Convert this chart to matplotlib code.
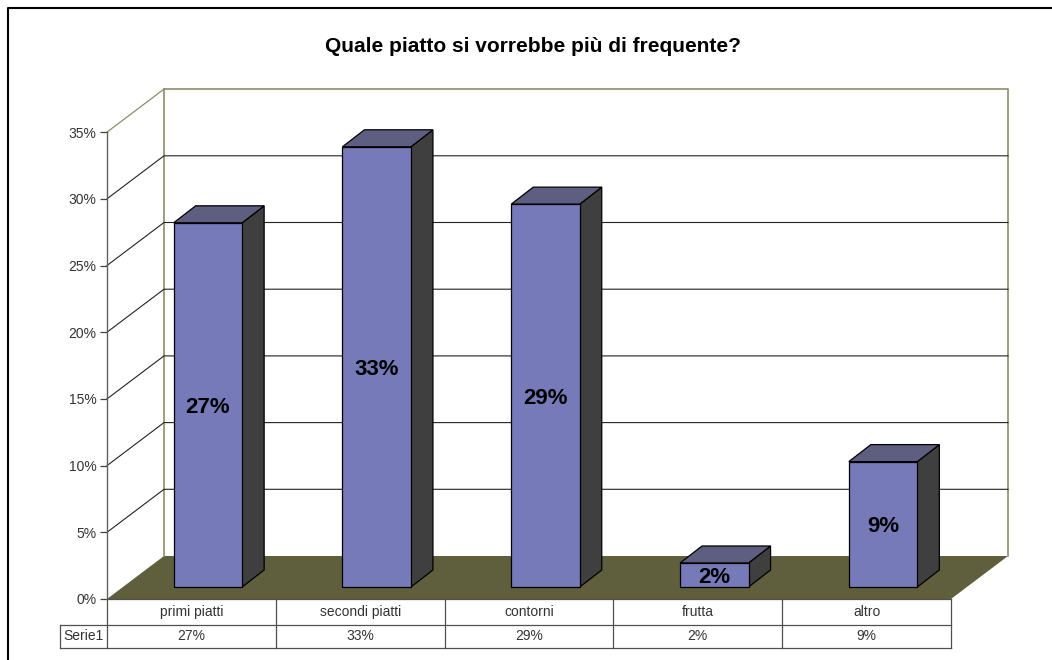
import matplotlib
matplotlib.use('Agg')
import matplotlib.pyplot as plt
from matplotlib.patches import Polygon, Rectangle
from matplotlib.ticker import FuncFormatter

plt.rcParams['font.family'] = ['Liberation Sans', 'DejaVu Sans']

categories = ['primi piatti', 'secondi piatti', 'contorni', 'frutta', 'altro']
values = [27.3, 33.0, 28.7, 1.8, 9.4]
labels = ['27%', '33%', '29%', '2%', '9%']
series_name = 'Serie1'
title = 'Quale piatto si vorrebbe più di frequente?'
yticks = [0, 5, 10, 15, 20, 25, 30, 35]

# scale of the chart in pixels
W, H = 1052, 660
x0, y0 = 107, 599
px_cat = 168.8
px_pct = 13.34
# oblique depth in data units
dep_x = 57 / px_cat
dep_y = 43 / px_pct
bar_w = 68.5 / px_cat

fig = plt.figure(figsize=(W / 100, H / 100), dpi=100, facecolor='white')
ax = fig.add_axes([0, 0, 1, 1])
ax.set_xlim(-x0 / px_cat, (W - x0) / px_cat)
ax.set_ylim((y0 - H) / px_pct, y0 / px_pct)
for s in ['top', 'right', 'bottom']:
    ax.spines[s].set_visible(False)
ax.patch.set_visible(False)

# y axis on the front left edge
ax.spines['left'].set_position(('data', 0))
ax.spines['left'].set_bounds(0, 35)
ax.spines['left'].set_color('#606060')
ax.spines['left'].set_linewidth(1)
ax.set_yticks(yticks)
ax.yaxis.set_major_formatter(FuncFormatter(lambda v, p: f'{v:.0f}%'))
ax.tick_params(axis='y', length=5, width=0.9, color='#404040', labelsize=10,
               labelcolor='#333333', pad=2.5)
ax.set_xticks([])

n = len(categories)

# floor and walls
ax.add_patch(Polygon([(0, 0), (dep_x, dep_y), (n + dep_x, dep_y), (n, 0)],
                     facecolor='#5f5f3d', edgecolor='none', zorder=1))
wall_col = '#8c8c6c'
ax.plot([dep_x, n + dep_x, n + dep_x], [35 + dep_y, 35 + dep_y, dep_y], color=wall_col, lw=1.2, zorder=1)
ax.plot([dep_x, dep_x], [dep_y, 35 + dep_y], color=wall_col, lw=1.2, zorder=1)
ax.plot([0, dep_x], [35, 35 + dep_y], color=wall_col, lw=0.9, zorder=1)
for v in yticks[1:-1]:
    ax.plot([0, dep_x, n + dep_x], [v, v + dep_y, v + dep_y], color='#222222', lw=0.8, zorder=1)

# bars
bar_dx = 22 / px_cat
bar_dy = 17 / px_pct
off_x = 16.5 / px_cat
off_y = 12 / px_pct
for i, (v, lab) in enumerate(zip(values, labels)):
    left = i + 0.5 + off_x - bar_w / 2
    bottom = off_y
    top = bottom + v
    ax.add_patch(Polygon([(left + bar_w, bottom), (left + bar_w + bar_dx, bottom + bar_dy),
                          (left + bar_w + bar_dx, top + bar_dy), (left + bar_w, top)],
                         facecolor='#3f3f3f', edgecolor='black', lw=0.9, zorder=3))
    ax.add_patch(Polygon([(left, top), (left + bar_dx, top + bar_dy),
                          (left + bar_w + bar_dx, top + bar_dy), (left + bar_w, top)],
                         facecolor='#5e5f80', edgecolor='black', lw=0.9, zorder=3))
    ax.add_patch(Rectangle((left, bottom), bar_w, top - bottom,
                           facecolor='#767ab9', edgecolor='black', lw=0.9, zorder=4))
    ax.text(left + bar_w / 2, (bottom + top) / 2 - 2.5 / px_pct, lab, ha='center', va='center',
            fontsize=16, fontweight='bold', color='black', zorder=5)

# data table below the floor
row1 = -26 / px_pct
row2 = -49 / px_pct
box_left = -47 / px_cat
tc = '#505050'
ax.plot([0, n], [0, 0], color=tc, lw=0.9, zorder=2)
ax.plot([box_left, n], [row1, row1], color=tc, lw=0.9, zorder=2)
ax.plot([box_left, n], [row2, row2], color=tc, lw=0.9, zorder=2)
ax.plot([box_left, box_left], [row1, row2], color=tc, lw=0.9, zorder=2)
for i in range(n + 1):
    ax.plot([i, i], [0, row2], color=tc, lw=0.9, zorder=2)
for i, (c, lab) in enumerate(zip(categories, labels)):
    ax.text(i + 0.5, row1 / 2, c, ha='center', va='center', fontsize=10, color='#333333')
    ax.text(i + 0.5, (row1 + row2) / 2, lab, ha='center', va='center', fontsize=10, color='#333333')
ax.text((box_left + 0) / 2, (row1 + row2) / 2, series_name, ha='center', va='center',
        fontsize=10, color='#333333')

# title and outer frame (no right edge in the picture)
ax.text((533 - x0) / px_cat, (y0 - 47) / px_pct, title, ha='center', va='center',
        fontsize=15, fontweight='bold', color='black')
ax.plot([8 / W, 8 / W, 1], [0, 1 - 8 / H, 1 - 8 / H], color='black', lw=1.5,
        transform=ax.transAxes, clip_on=False)

fig.savefig('out.png', dpi=100)
